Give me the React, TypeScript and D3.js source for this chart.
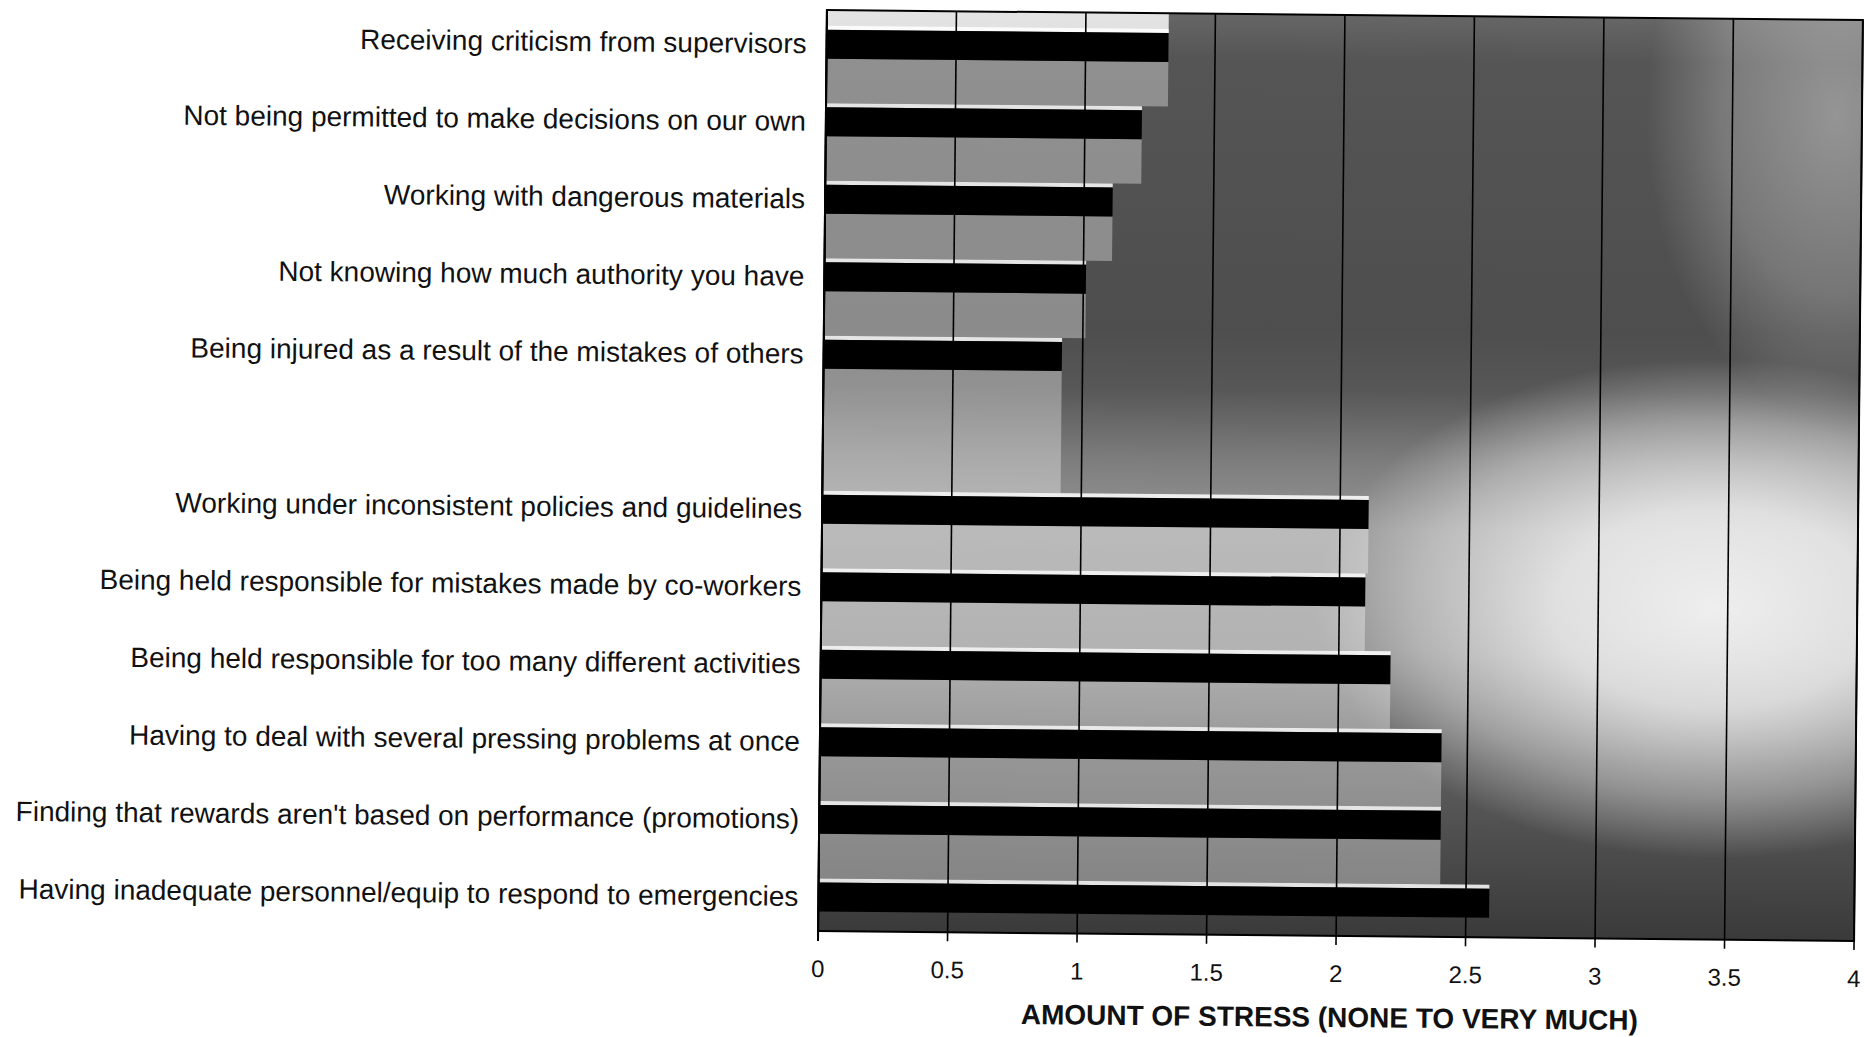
import React from "react";
import * as d3 from "d3";

// ---- data ----
const groupA = [
  "Receiving criticism from supervisors",
  "Not being permitted to make decisions on our own",
  "Working with dangerous materials",
  "Not knowing how much authority you have",
  "Being injured as a result of the mistakes of others",
];
const valuesA = [1.32, 1.22, 1.11, 1.01, 0.92];

const groupB = [
  "Working under inconsistent policies and guidelines",
  "Being held responsible for mistakes made by co-workers",
  "Being held responsible for too many different activities",
  "Having to deal with several pressing problems at once",
  "Finding that rewards aren't based on performance (promotions)",
  "Having inadequate personnel/equip to respond to emergencies",
];
const valuesB = [2.11, 2.1, 2.2, 2.4, 2.4, 2.59];

const tickValues = [0, 0.5, 1, 1.5, 2, 2.5, 3, 3.5, 4];
const tickLabels = ["0", "0.5", "1", "1.5", "2", "2.5", "3", "3.5", "4"];
const axisTitle = "AMOUNT OF STRESS (NONE TO VERY MUCH)";
const GAP = "__gap__";

export default function App() {
  const W = 1865, H = 1037;
  const L = 822.5, R = 1858.5, T = 15, B = 936;
  const cx = (L + R) / 2, cy = (T + B) / 2;

  const slots = [...groupA, GAP, ...groupB];
  const bars = [
    ...groupA.map((c, i) => ({ c, v: valuesA[i] })),
    ...groupB.map((c, i) => ({ c, v: valuesB[i] })),
  ];

  const xs = d3.scaleLinear().domain([0, 4]).range([L, R]);
  const ys = d3.scalePoint<string>().domain(slots).range([T, B]).padding(0.44);
  const barH = 29;
  const font = "'Liberation Sans', Arial, Helvetica, sans-serif";
  const off = (y: number) => (y - T) / (B - T);

  return (
    <svg
      width={W}
      height={H}
      viewBox={`0 0 ${W} ${H}`}
      style={{ position: "absolute", left: 0, top: 0, display: "block", background: "#fff" }}
    >
      <defs>
        <linearGradient id="bgv" gradientUnits="userSpaceOnUse" x1="0" y1={T} x2="0" y2={B}>
          <stop offset={0} stopColor="#666" />
          <stop offset={off(60)} stopColor="#555" />
          <stop offset={off(330)} stopColor="#4e4e4e" />
          <stop offset={off(390)} stopColor="#575757" />
          <stop offset={off(460)} stopColor="#7c7c7c" />
          <stop offset={off(530)} stopColor="#969696" />
          <stop offset={off(650)} stopColor="#8a8a8a" />
          <stop offset={off(760)} stopColor="#5e5e5e" />
          <stop offset={1} stopColor="#3a3a3a" />
        </linearGradient>
        <radialGradient id="light1" gradientUnits="objectBoundingBox" cx="0.5" cy="0.5" r="0.5">
          <stop offset={0} stopColor="#fff" stopOpacity={0.85} />
          <stop offset={0.4} stopColor="#fff" stopOpacity={0.72} />
          <stop offset={0.75} stopColor="#fff" stopOpacity={0.35} />
          <stop offset={1} stopColor="#fff" stopOpacity={0} />
        </radialGradient>
        <radialGradient id="light2" gradientUnits="objectBoundingBox" cx="0.5" cy="0.5" r="0.5">
          <stop offset={0} stopColor="#fff" stopOpacity={0.38} />
          <stop offset={0.6} stopColor="#fff" stopOpacity={0.22} />
          <stop offset={1} stopColor="#fff" stopOpacity={0} />
        </radialGradient>
        <clipPath id="plotClip">
          <rect x={L} y={T} width={R - L} height={B - T} />
        </clipPath>
      </defs>

      <g transform={`rotate(0.55 ${cx} ${cy})`}>
        {/* plot background (scanned gradient) */}
        <g clipPath="url(#plotClip)">
          <rect x={L} y={T} width={R - L} height={B - T} fill="url(#bgv)" />
          <ellipse cx={xs(3.45)} cy={605} rx={400} ry={250} fill="url(#light1)" />
          <ellipse cx={xs(3.9)} cy={110} rx={190} ry={300} fill="url(#light2)" />
          {/* top strip above first bar */}
          <rect
            x={L}
            y={T}
            width={xs(bars[0].v) - L}
            height={(ys(bars[0].c) as number) - barH / 2 - T}
            fill="#fff"
            opacity={0.82}
          />
          {/* light rows below each bar */}
          {bars.slice(0, -1).map((b, i) => {
            const yc = ys(b.c) as number;
            const yn = ys(bars[i + 1].c) as number;
            return (
              <rect
                key={"h" + i}
                x={L}
                y={yc + barH / 2}
                width={xs(b.v) - L}
                height={yn - barH / 2 - 4 - (yc + barH / 2)}
                fill="#fff"
                opacity={0.35}
              />
            );
          })}
          {/* thin light line above each bar */}
          {bars.map((b, i) => {
            const yc = ys(b.c) as number;
            return (
              <rect
                key={"w" + i}
                x={L}
                y={yc - barH / 2 - 4}
                width={xs(b.v) - L}
                height={4}
                fill="#fff"
                opacity={0.85}
              />
            );
          })}
        </g>

        {/* gridlines */}
        {tickValues.map((t, i) => (
          <line
            key={"g" + i}
            x1={xs(t)}
            x2={xs(t)}
            y1={T}
            y2={B}
            stroke="#000"
            strokeWidth={1.6}
          />
        ))}

        {/* bars */}
        {bars.map((b, i) => {
          const yc = ys(b.c) as number;
          return (
            <rect
              key={"b" + i}
              x={xs(0)}
              y={yc - barH / 2}
              width={xs(b.v) - xs(0)}
              height={barH}
              fill="#000"
            />
          );
        })}

        {/* frame */}
        <rect x={L} y={T} width={R - L} height={B - T} fill="none" stroke="#000" strokeWidth={2} />
        <line x1={L} x2={L} y1={T} y2={B + 10} stroke="#000" strokeWidth={2} />

        {/* ticks */}
        {tickValues.map((t, i) => (
          <g key={"t" + i}>
            <line x1={xs(t)} x2={xs(t)} y1={B} y2={B + 9} stroke="#000" strokeWidth={1.6} />
            <text
              x={xs(t)}
              y={B + 46}
              textAnchor="middle"
              fontFamily={font}
              fontSize={24}
              fill="#111"
            >
              {tickLabels[i]}
            </text>
          </g>
        ))}

        {/* category labels */}
        {bars.map((b, i) => (
          <text
            key={"l" + i}
            x={L - 20}
            y={ys(b.c) as number}
            dy="0.33em"
            textAnchor="end"
            fontFamily={font}
            fontSize={28}
            fill="#111"
          >
            {b.c}
          </text>
        ))}

        {/* axis title */}
        <text
          x={cx - 6}
          y={B + 91}
          textAnchor="middle"
          fontFamily={font}
          fontSize={28}
          fontWeight="bold"
          fill="#111"
        >
          {axisTitle}
        </text>
      </g>
    </svg>
  );
}
